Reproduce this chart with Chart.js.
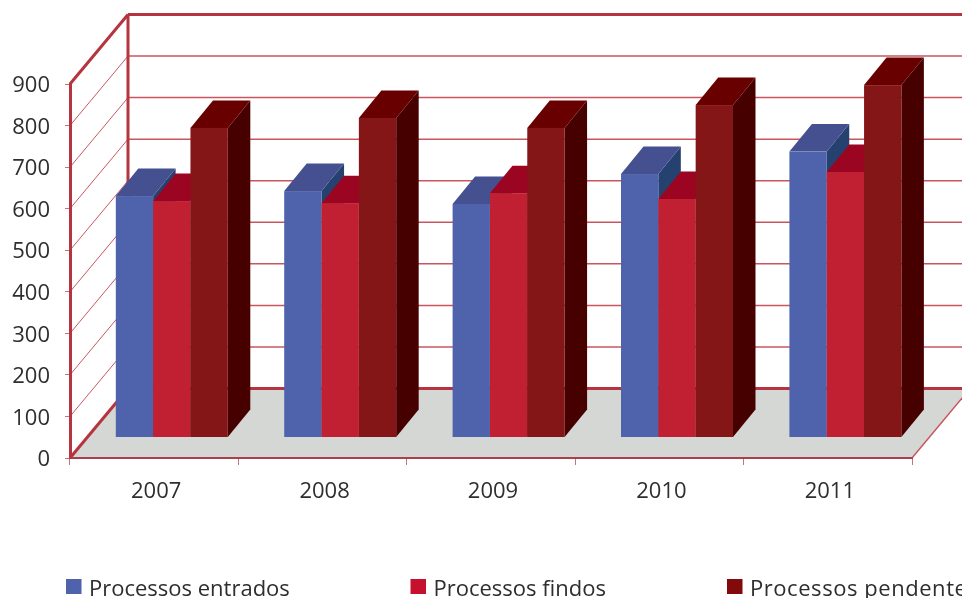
<!DOCTYPE html>
<html>
<head>
<meta charset="utf-8">
<title>Processos</title>
<script src="https://cdn.jsdelivr.net/npm/chart.js@4"></script>
<style>
    html, body { margin: 0; padding: 0; background: #fff; overflow: hidden; }
    canvas { display: block; }
</style>
</head>
<body>
<canvas id="chart-processos" width="962" height="598"></canvas>
<script>
const anos = ['2007', '2008', '2009', '2010', '2011'];
const entrados = [581, 593, 562, 634, 688];
const findos = [569, 564, 588, 574, 639];
const pendentes = [745, 769, 745, 800, 848];

const nomes = ['Processos entrados', 'Processos findos', 'Processos pendentes'];
const coresFrente = ['#4f63ad', '#c12033', '#841618'];
const coresTopo = ['#44508f', '#9b0522', '#680000'];
const coresLado = ['#24416f', '#7a0a18', '#470000'];
const coresLegenda = ['#4f63ad', '#c5102e', '#820a0a'];
const legendaX = [66, 410.5, 727];
const legendaEspaco = ['0px', '0px', '0.55px'];

const linha = '#b5343f';
const linhaFina = '#c9565f';
const texto = '#2e2e2e';
const fonte = '"Open Sans", sans-serif';

function poligono(ctx, pts, cor) {
    ctx.fillStyle = cor;
    ctx.beginPath();
    pts.forEach((p, i) => i ? ctx.lineTo(p[0], p[1]) : ctx.moveTo(p[0], p[1]));
    ctx.closePath();
    ctx.fill();
}

function traco(ctx, x1, y1, x2, y2, cor, larg) {
    ctx.strokeStyle = cor;
    ctx.lineWidth = larg;
    ctx.beginPath();
    ctx.moveTo(x1, y1);
    ctx.lineTo(x2, y2);
    ctx.stroke();
}

// Paredes e chão em perspectiva
const fundoX = 58, fundoY = -69.5;
const paredes = {
    id: 'paredes',
    beforeDraw(chart) {
        const { ctx, chartArea: a, scales: { y } } = chart;
        const zero = y.getPixelForValue(0);
        ctx.save();
        poligono(ctx, [[a.left, zero], [a.right, zero], [a.right + fundoX, zero + fundoY], [a.left + fundoX, zero + fundoY]], '#d5d7d4');
        y.ticks.forEach(t => {
            if (t.value === 0 || t.value === 900) return;
            const py = y.getPixelForValue(t.value);
            traco(ctx, a.left, py, a.left + fundoX, py + fundoY, linhaFina, 1);
            traco(ctx, a.left + fundoX, py + fundoY, a.right + fundoX, py + fundoY, linhaFina, 1.5);
        });
        const topo = y.getPixelForValue(900);
        traco(ctx, a.left, topo, a.left + fundoX, topo + fundoY, linha, 3);
        traco(ctx, a.left + fundoX, topo + fundoY, a.right + fundoX, topo + fundoY, linha, 3);
        traco(ctx, a.left + fundoX, topo + fundoY, a.left + fundoX, zero + fundoY, linha, 3);
        traco(ctx, a.left + fundoX, zero + fundoY, a.right + fundoX, zero + fundoY, linha, 3);
        traco(ctx, a.left, zero, a.left + fundoX, zero + fundoY, linha, 3);
        traco(ctx, a.right, zero, a.right + fundoX, zero + fundoY, linhaFina, 1.5);
        ctx.restore();
    }
};

// Barras 3D a partir dos elementos do Chart.js
const desvioX = 17.6, desvioY = -20.5, fundoBarraX = 22.5, fundoBarraY = -27.5;
const barras3d = {
    id: 'barras3d',
    beforeDatasetsDraw(chart) {
        const { ctx } = chart;
        ctx.save();
        chart.data.datasets.forEach((ds, i) => {
            chart.getDatasetMeta(i).data.forEach(bar => {
                const l = bar.x - bar.width / 2 + desvioX;
                const r = bar.x + bar.width / 2 + desvioX;
                const t = bar.y + desvioY;
                const b = bar.base + desvioY;
                poligono(ctx, [[r, t], [r + fundoBarraX, t + fundoBarraY], [r + fundoBarraX, b + fundoBarraY], [r, b]], coresLado[i]);
                poligono(ctx, [[l, t], [l + fundoBarraX, t + fundoBarraY], [r + fundoBarraX, t + fundoBarraY], [r, t]], coresTopo[i]);
                ctx.fillStyle = coresFrente[i];
                ctx.fillRect(l, t, r - l, b - t);
            });
        });
        ctx.restore();
    },
    beforeDatasetDraw() {
        return false;
    }
};

// Legenda cortada à direita como no original
const legenda = {
    id: 'legenda',
    afterDraw(chart) {
        const { ctx } = chart;
        ctx.save();
        ctx.font = '22px ' + fonte;
        ctx.textBaseline = 'alphabetic';
        nomes.forEach((nome, i) => {
            ctx.fillStyle = coresLegenda[i];
            ctx.fillRect(legendaX[i], 579, 15.5, 15);
            ctx.fillStyle = texto;
            ctx.letterSpacing = legendaEspaco[i];
            ctx.fillText(nome, legendaX[i] + 23, 596);
        });
        ctx.restore();
    }
};

new Chart(document.getElementById('chart-processos'), {
    type: 'bar',
    data: {
        labels: anos,
        datasets: [
            { label: nomes[0], data: entrados, backgroundColor: coresFrente[0] },
            { label: nomes[1], data: findos, backgroundColor: coresFrente[1] },
            { label: nomes[2], data: pendentes, backgroundColor: coresFrente[2] },
        ],
    },
    options: {
        responsive: false,
        animation: false,
        layout: { autoPadding: false, padding: { top: 84, right: 50 } },
        plugins: { legend: { display: false }, tooltip: { enabled: false } },
        datasets: { bar: { barPercentage: 1, categoryPercentage: 0.665 } },
        scales: {
            x: {
                afterFit(scale) { scale.height = 140; },
                grid: { drawOnChartArea: false, tickLength: 7, color: '#c9727a' },
                border: { color: '#a8404f', width: 2 },
                ticks: { color: texto, padding: 14, labelOffset: 2, maxRotation: 0, font: { family: fonte, size: 22 } },
            },
            y: {
                min: 0,
                max: 900,
                afterFit(scale) { scale.width = 70; },
                grid: { drawOnChartArea: false, tickLength: 5, color: '#c9727a' },
                border: { color: linha, width: 3 },
                ticks: { stepSize: 100, color: texto, padding: 15, labelOffset: 2, font: { family: fonte, size: 22 } },
            },
        },
    },
    plugins: [paredes, barras3d, legenda],
});
</script>
</body>
</html>
